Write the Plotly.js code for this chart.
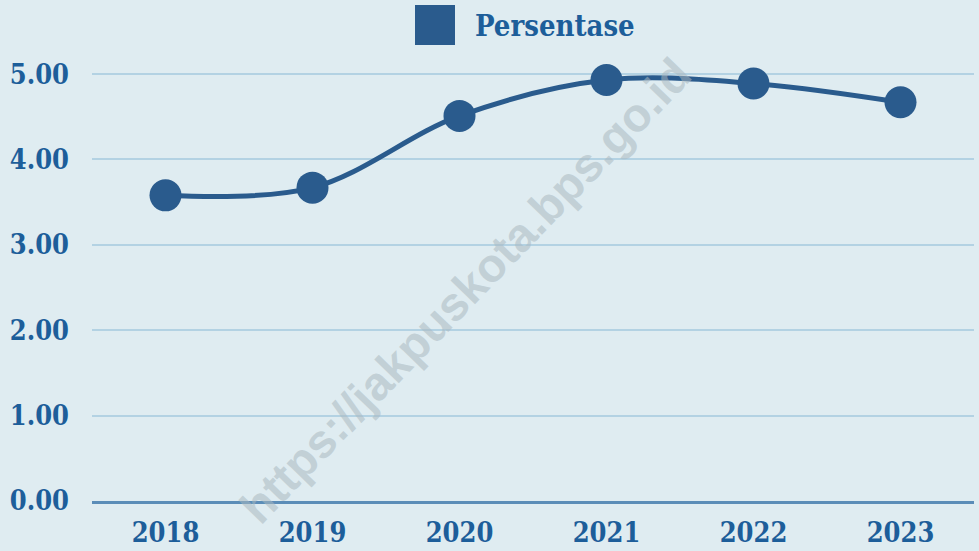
<!DOCTYPE html>
<html><head><meta charset="utf-8">
<script src="https://cdn.plot.ly/plotly-3.0.1.min.js"></script>
<style>html,body{margin:0;padding:0;background:#dfecf1;}</style>
</head><body>
<div id="chart" style="width:979px;height:551px;"></div>
<script>
const years = ['2018','2019','2020','2021','2022','2023'];
const persentase = [3.58, 3.67, 4.51, 4.93, 4.89, 4.67];
const yTickVals = [0, 1, 2, 3, 4, 5];
const yTickText = ['0.00','1.00','2.00','3.00','4.00','5.00'];
const seriesName = 'Persentase';
const watermark = 'https://jakpuskota.bps.go.id';

const tickFont = {family: 'DejaVu Serif Condensed, DejaVu Serif, serif', size: 27, color: '#1d5e9a', weight: 700};

const data = [{
  type: 'scatter', mode: 'lines+markers', x: years, y: persentase, name: seriesName,
  line: {shape: 'spline', smoothing: 1, color: '#2a5b8d', width: 5},
  marker: {size: 32, color: '#2a5b8d'}, showlegend: false
}];

const plotW = 979 - 92 - 5, plotH = 551 - 57 - 50;

const layout = {
  width: 979, height: 551,
  margin: {l: 92, r: 5, t: 57, b: 50},
  paper_bgcolor: '#dfecf1', plot_bgcolor: '#dfecf1',
  showlegend: false,
  xaxis: {type: 'category', range: [-0.5, 5.5], showgrid: false, zeroline: false,
    showline: true, linecolor: '#5b8db8', linewidth: 3,
    ticks: '', tickfont: tickFont, ticklabelstandoff: 6, fixedrange: true},
  yaxis: {range: [0, 5.2], tickvals: yTickVals, ticktext: yTickText,
    showgrid: true, gridcolor: '#b3d2e3', gridwidth: 2, zeroline: false,
    ticks: '', tickfont: tickFont, ticklabelstandoff: 22, fixedrange: true},
  shapes: [{type: 'rect', xref: 'paper', yref: 'paper',
    x0: (415 - 92) / plotW, x1: (455 - 92) / plotW,
    y0: (551 - 50 - 45) / plotH, y1: (551 - 50 - 5) / plotH,
    fillcolor: '#2a5b8d', line: {width: 0}}],
  annotations: [
    {xref: 'paper', yref: 'paper', x: (473 - 92) / plotW, y: (501 - 26) / plotH, xanchor: 'left', yanchor: 'middle', showarrow: false,
     text: seriesName, font: {family: 'DejaVu Serif Condensed, DejaVu Serif, serif', size: 29, color: '#1d5e9a', weight: 600}},
    {xref: 'paper', yref: 'paper', x: (465 - 92) / plotW, y: (501 - 290) / plotH, showarrow: false, textangle: -46,
     text: watermark, font: {family: 'Liberation Sans, Arial, sans-serif', size: 47, color: 'rgba(170,185,192,0.55)', weight: 700}}
  ]
};

Plotly.newPlot('chart', data, layout, {displayModeBar: false, staticPlot: true});
</script>
</body></html>
